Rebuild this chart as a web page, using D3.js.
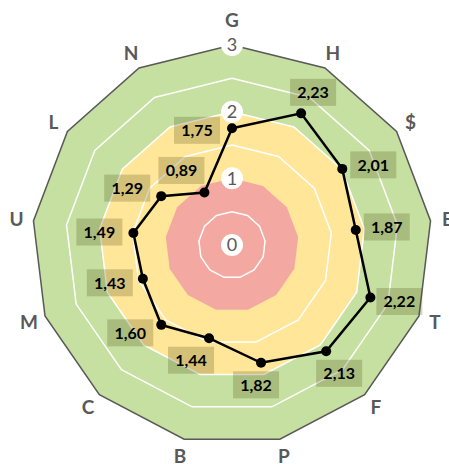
<!DOCTYPE html>
<html>
<head>
<meta charset="utf-8">
<script src="https://cdn.jsdelivr.net/npm/d3@7"></script>
<style>
  body { margin: 0; background: #fff; }
</style>
</head>
<body>
<div id="radar"></div>
<script>
// categories clockwise from top
var categories = ["G", "H", "$", "E", "T", "F", "P", "B", "C", "M", "U", "L", "N"];
var values = [1.75, 2.23, 2.01, 1.87, 2.22, 2.13, 1.82, 1.44, 1.60, 1.43, 1.49, 1.29, 0.89];
var tickValues = [0, 1, 2, 3];
// coloured bands: upper bound and colour
var bandLimits = [3, 2, 1];
var bandColors = ["#c5e0a0", "#ffe699", "#f4a8a2"];
var gridValues = [0.5, 1.5, 2, 2.5];
// where each value label sits relative to its point
var labelOffsets = [[-35, 2], [12, -21], [31, -4], [31, -3], [29, 4], [13, 22], [-5, 22],
  [-18, 22], [-31, 8], [-33, 4], [-34, -1], [-34, -8], [-23, -22]];

function radar () {

	var width = 449, height = 464;
	var cx = 232, cy = 245;
	var n = categories.length;

	var r = d3.scaleLinear().domain([0, 3]).range([0, 200]);

	var angle = function (i) { return i * 2 * Math.PI / n; };
	var px = function (i, v) { return cx + r(v) * Math.sin(angle(i)); };
	var py = function (i, v) { return cy - r(v) * Math.cos(angle(i)); };

	var ring = function (v) {
		return categories.map(function (c, i) { return [px(i, v), py(i, v)]; });
	};

	var svg = d3.select("#radar")
		.append("svg")
			.attr("width", width)
			.attr("height", height)
			.style("font-family", "Lato, 'Open Sans', sans-serif");

	// coloured bands
	svg.selectAll(".band")
		.data(bandLimits)
		.enter().append("polygon")
			.attr("class", "band")
			.attr("points", function (d) { return ring(d).join(" "); })
			.style("fill", function (d, i) { return bandColors[i]; });

	// white gridlines
	svg.selectAll(".grid")
		.data(gridValues)
		.enter().append("polygon")
			.attr("class", "grid")
			.attr("points", function (d) { return ring(d).join(" "); })
			.style("fill", "none")
			.style("stroke", "#fff")
			.style("stroke-width", 1.5);

	// outer border
	svg.append("polygon")
			.attr("points", ring(3).join(" "))
			.style("fill", "none")
			.style("stroke", "#595959")
			.style("stroke-width", 1.5);

	// tick labels on the top axis
	var ticks = svg.selectAll(".tick")
		.data(tickValues)
		.enter().append("g")
			.attr("class", "tick")
			.attr("transform", function (d) { return "translate(" + cx + "," + (cy - r(d)) + ")"; });

	ticks.append("circle")
			.attr("r", 11)
			.style("fill", "#fff");

	ticks.append("text")
			.attr("dy", "0.36em")
			.attr("text-anchor", "middle")
			.style("font-size", "18px")
			.style("fill", "#595959")
			.text(function (d) { return d; });

	// category names, a bit further out on the top axis because of the tick label
	var catR = function (i) { return r(3) + (i === 0 ? 25 : 17); };

	svg.selectAll(".cat")
		.data(categories)
		.enter().append("text")
			.attr("class", "cat")
			.attr("x", function (d, i) { return cx + catR(i) * Math.sin(angle(i)); })
			.attr("y", function (d, i) { return cy - catR(i) * Math.cos(angle(i)); })
			.attr("dy", "0.36em")
			.attr("text-anchor", "middle")
			.style("font-size", "19px")
			.style("font-weight", "bold")
			.style("fill", "#595959")
			.text(function (d) { return d; });

	// series line
	var line = d3.line().curve(d3.curveLinearClosed);

	svg.append("path")
			.attr("d", line(values.map(function (v, i) { return [px(i, v), py(i, v)]; })))
			.style("fill", "none")
			.style("stroke", "#000")
			.style("stroke-width", 2.5);

	svg.selectAll(".dot")
		.data(values)
		.enter().append("circle")
			.attr("class", "dot")
			.attr("cx", function (d, i) { return px(i, d); })
			.attr("cy", function (d, i) { return py(i, d); })
			.attr("r", 5)
			.style("fill", "#000");

	// value labels
	var fmt = function (v) { return d3.format(".2f")(v).replace(".", ","); };

	var labels = svg.selectAll(".lab")
		.data(values)
		.enter().append("g")
			.attr("class", "lab")
			.attr("transform", function (d, i) {
				return "translate(" + (px(i, d) + labelOffsets[i][0]) + "," + (py(i, d) + labelOffsets[i][1]) + ")";
			});

	labels.append("rect")
			.attr("x", -23)
			.attr("y", -13.5)
			.attr("width", 46)
			.attr("height", 27)
			.style("fill", "rgba(84,84,20,0.25)");

	labels.append("text")
			.attr("dy", "0.36em")
			.attr("text-anchor", "middle")
			.style("font-size", "16px")
			.style("font-weight", "bold")
			.style("fill", "#000")
			.text(fmt);
}

radar();
</script>
</body>
</html>
